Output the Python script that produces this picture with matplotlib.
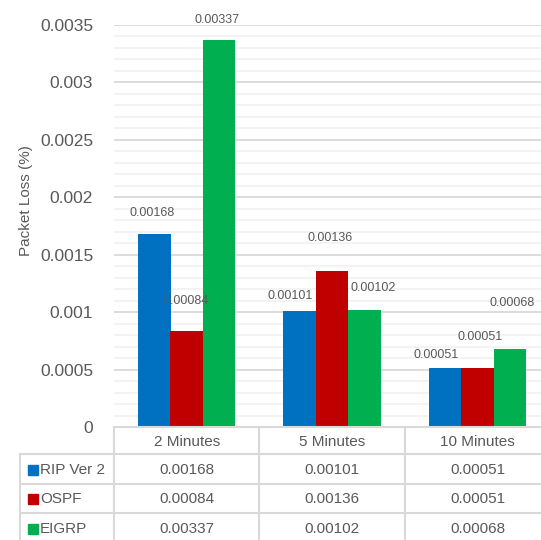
import numpy as np
import matplotlib
matplotlib.use("Agg")
import matplotlib.pyplot as plt
from matplotlib.patches import Rectangle

plt.rcParams['font.family'] = ['Liberation Sans', 'DejaVu Sans']

categories = ["2 Minutes", "5 Minutes", "10 Minutes"]
series = ["RIP Ver 2", "OSPF", "EIGRP"]
rip = [0.00168, 0.00101, 0.00051]
ospf = [0.00084, 0.00136, 0.00051]
eigrp = [0.00337, 0.00102, 0.00068]
values = [rip, ospf, eigrp]
labels = [["0.00168", "0.00101", "0.00051"],
          ["0.00084", "0.00136", "0.00051"],
          ["0.00337", "0.00102", "0.00068"]]

colors = ["#0070C0", "#C00000", "#00B050"]
text_col = "#595959"
grid_major = "#D9D9D9"
grid_minor = "#F2F2F2"

# label offsets in pixels (dx, dy above bar top), mimicking Excel placement
label_off = [[(-2, 21), (-10, 15), (-9, 13)],
             [(-1, 30), (-2.5, 33), (2, 31)],
             [(-2, 20), (8, 22), (2, 46)]]

W, H = 541, 540
fig = plt.figure(figsize=(W / 100, H / 100), dpi=100)

# pixel geometry
x_left, x_right = 114, 550.5
y_top, y_zero = 25, 427
ax = fig.add_axes([x_left / W, (H - y_zero) / H, (x_right - x_left) / W, (y_zero - y_top) / H])

x = np.arange(len(categories))
bw = 32.5 / 145.5
for i, (vals, c) in enumerate(zip(values, colors)):
    pos = x + (i - 1) * bw
    ax.bar(pos, vals, width=bw, color=c, zorder=3)
    for j, v in enumerate(vals):
        dx, dy = label_off[i][j]
        ax.annotate(labels[i][j], (pos[j], v), xytext=(dx * 0.72, dy * 0.72),
                    textcoords="offset points", ha="center", va="center",
                    fontsize=9, color=text_col, zorder=4, annotation_clip=False)

ax.set_xlim(-0.5, 2.5)
ax.set_ylim(0, 0.0035)
ax.set_yticks(np.arange(0, 0.00351, 0.0005))
ax.set_yticklabels(["0", "0.0005", "0.001", "0.0015", "0.002", "0.0025", "0.003", "0.0035"])
ax.set_yticks(np.arange(0, 0.00351, 0.0001), minor=True)
ax.tick_params(axis="y", which="both", length=0, pad=15, labelsize=12.5, labelcolor=text_col)
ax.set_xticks([])
ax.grid(axis="y", which="major", color=grid_major, lw=1.3, zorder=1)
ax.grid(axis="y", which="minor", color=grid_minor, lw=1.3, zorder=0)
for s in ax.spines.values():
    s.set_visible(False)
ax.set_ylabel("Packet Loss (%)", fontsize=11, color=text_col)
ax.yaxis.set_label_coords(-(x_left - 33) / (x_right - x_left), (y_zero - 201) / (y_zero - y_top))

# data table below the plot
t_left = 20
cat_w = 145.5
x0 = -0.5 - (x_left - t_left) / cat_w
tax = fig.add_axes([t_left / W, 0, (x_right - t_left) / W, (H - y_zero) / H])
tax.set_xlim(x0, 2.5)
tax.set_ylim(H - y_zero, 0)
tax.axis("off")

rows = [0, 27, 56.5, 86, 115.5]
lc = grid_major
lw = 1.5
# header top and vertical lines
tax.plot([-0.5, 2.5], [rows[0], rows[0]], color=lc, lw=lw, clip_on=False)
for xv in [-0.5, 0.5, 1.5, 2.5]:
    tax.plot([xv, xv], [rows[0], rows[-1]], color=lc, lw=lw, clip_on=False)
tax.plot([x0, x0], [rows[1], rows[-1]], color=lc, lw=lw, clip_on=False)
for r in rows[1:]:
    tax.plot([x0, 2.5], [r, r], color=lc, lw=lw, clip_on=False)

for j, cat in enumerate(categories):
    tax.text(j, (rows[0] + rows[1]) / 2 + 1, cat, ha="center", va="center",
             fontsize=11, color=text_col)

key = 10 / cat_w
for i, name in enumerate(series):
    yc = (rows[i + 1] + rows[i + 2]) / 2 + 1
    tax.add_patch(Rectangle((x0 + 8 / cat_w, yc - 5), key, 10, color=colors[i], clip_on=False))
    tax.text(x0 + 20 / cat_w, yc, name, ha="left", va="center", fontsize=11, color=text_col)
    for j in range(len(categories)):
        tax.text(j, yc, labels[i][j], ha="center", va="center", fontsize=11, color=text_col)

fig.savefig("out.png", dpi=100)
